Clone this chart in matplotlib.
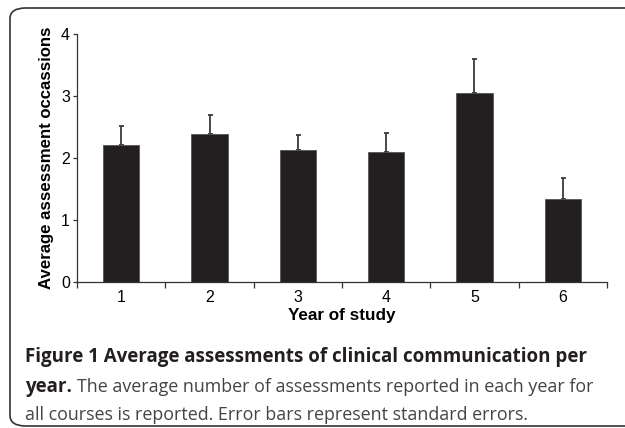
import matplotlib.pyplot as plt
import numpy as np
from matplotlib.patches import FancyBboxPatch

years = ["1", "2", "3", "4", "5", "6"]
means = [2.21, 2.39, 2.13, 2.10, 3.05, 1.34]
std_errors = [0.31, 0.31, 0.24, 0.30, 0.54, 0.33]

caption_bold = "Figure 1 Average assessments of clinical communication per"
caption_bold_2 = "year."
caption_rest_2 = "The average number of assessments reported in each year for"
caption_rest_3 = "all courses is reported. Error bars represent standard errors."

plt.rcParams["font.family"] = ["Liberation Sans", "DejaVu Sans"]

figure = plt.figure(figsize=(6.25, 4.28), dpi=100)
axis = figure.add_axes([0.1232, 0.3411, 0.848, 0.5794])

x = np.arange(1, len(years) + 1)
axis.bar(x, means, width=0.41, color="#231f20", edgecolor="#555555", linewidth=0.6, zorder=2)
axis.errorbar(x, means, yerr=[np.zeros(len(means)), std_errors], fmt="none", ecolor="#3a3a3a",
              elinewidth=1.3, capsize=1.8, capthick=1.3, zorder=1)

axis.set_xlim(0.5, 6.5)
axis.set_ylim(0, 4)
axis.set_yticks([0, 1, 2, 3, 4])
axis.set_xticks(x)
axis.set_xticklabels(years)
axis.set_xticks(np.arange(0.5, 7, 1), minor=True)
axis.tick_params(axis="x", which="major", length=0, labelsize=11.5, pad=6)
axis.tick_params(axis="x", which="minor", length=4, width=0.9, direction="out", color="#333333")
axis.tick_params(axis="y", length=3, width=0.9, direction="out", labelsize=11.5, pad=2, color="#333333")
axis.spines["top"].set_visible(False)
axis.spines["right"].set_visible(False)
for side in ["left", "bottom"]:
    axis.spines[side].set_color("#333333")
    axis.spines[side].set_linewidth(0.9)

axis.set_xlabel("Year of study", fontsize=12.3, fontweight="bold", labelpad=2)
axis.set_ylabel("Average assessment occassions", fontsize=12.1, fontweight="bold", labelpad=5)

# frame around the figure
box = FancyBboxPatch((10 / 625, 2 / 428), 640 / 625, 418 / 428, boxstyle="round,pad=0,rounding_size=0.025",
                     transform=figure.transFigure, facecolor="none", edgecolor="#333333", linewidth=1.2)
figure.patches.append(box)

caption_font = ["Open Sans", "DejaVu Sans"]
size = 13.5
rest_size = 12.9
figure.text(25 / 625, 1 - 357 / 428, caption_bold, fontsize=size, fontweight="bold", family=caption_font,
            va="center", color="#231f20")
year_text = figure.text(25 / 625, 1 - 387 / 428, caption_bold_2, fontsize=size, fontweight="bold",
                        family=caption_font, va="center", color="#231f20")
renderer = figure.canvas.get_renderer()
year_end = year_text.get_window_extent(renderer).x1 / 625
figure.text(year_end + 5 / 625, 1 - 387 / 428, caption_rest_2, fontsize=rest_size, family=caption_font,
            va="center", color="#444444")
figure.text(25 / 625, 1 - 415 / 428, caption_rest_3, fontsize=rest_size, family=caption_font,
            va="center", color="#444444")

figure.savefig("out.png", dpi=100)
